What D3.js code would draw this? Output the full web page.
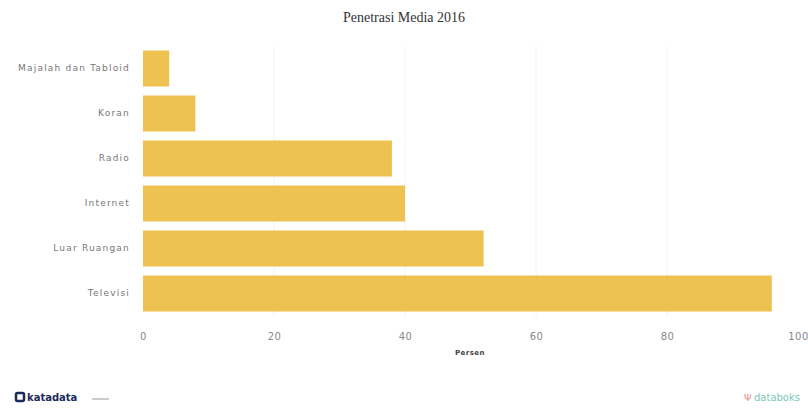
<!DOCTYPE html>
<html><head><meta charset="utf-8">
<script src="https://cdn.jsdelivr.net/npm/d3@7"></script>
<style>body{margin:0;background:#fff}svg{display:block}</style>
</head><body>
<svg id="c" width="808" height="410"></svg>
<script>
const categories = ["Majalah dan Tabloid","Koran","Radio","Internet","Luar Ruangan","Televisi"];
const values = [4, 8, 38, 40, 52, 96];
const xTicks = [0, 20, 40, 60, 80, 100];
const title = "Penetrasi Media 2016";
const xTitle = "Persen";

const svg = d3.select("#c");
const m = {l:143, r:10, t:46, b:94};
const W = 808, H = 410;
const x = d3.scaleLinear().domain([0,100]).range([m.l, 798]);
const y = d3.scaleBand().domain(categories).range([m.t, H - m.b]).paddingInner(0.2).paddingOuter(0.1);

svg.append("g").selectAll("line").data(xTicks.slice(1,-1)).join("line")
  .attr("x1", d=>x(d)).attr("x2", d=>x(d)).attr("y1", m.t).attr("y2", H-m.b)
  .attr("stroke","#f2f2f2").attr("stroke-width",1);

svg.append("g").selectAll("rect").data(values).join("rect")
  .attr("x", x(0)).attr("y", (d,i)=>y(categories[i]))
  .attr("width", d=>x(d)-x(0)).attr("height", y.bandwidth())
  .attr("fill","#eec250");

const xa = d3.axisBottom(x).tickValues(xTicks).tickSize(0).tickPadding(0);
const gx = svg.append("g").attr("transform",`translate(0,${H-m.b+17})`).call(xa);
gx.select(".domain").remove();
gx.selectAll("text").attr("fill","#888").attr("font-family","Verdana, DejaVu Sans, sans-serif").attr("font-size",10).attr("letter-spacing","0.5px").attr("dy","0.71em");

const ya = d3.axisLeft(y).tickSize(0).tickPadding(13);
const gy = svg.append("g").attr("transform",`translate(${m.l},0)`).call(ya);
gy.select(".domain").remove();
gy.selectAll("text").attr("fill","#777").attr("font-family","Verdana, DejaVu Sans, sans-serif").attr("font-size",9).attr("letter-spacing","1.2px");

svg.append("text").attr("x",404).attr("y",22).attr("text-anchor","middle")
  .attr("font-family","Liberation Serif, Times New Roman, serif").attr("font-size",14).attr("fill","#333").text(title);

svg.append("text").attr("x",470).attr("y",355).attr("text-anchor","middle")
  .attr("font-family","Verdana, DejaVu Sans, sans-serif").attr("font-size",7).attr("font-weight","bold").attr("letter-spacing","0.5px").attr("fill","#444").text(xTitle);

// logos
const lg = svg.append("g");
lg.append("rect").attr("x",16).attr("y",393).attr("width",8).attr("height",8).attr("rx",1.5).attr("fill","none").attr("stroke","#1d2b5a").attr("stroke-width",2.5);
lg.append("text").attr("x",27).attr("y",401).attr("font-family","DejaVu Sans, sans-serif").attr("font-size",10).attr("fill","#1d2b5a").attr("font-weight","bold").text("katadata");
lg.append("rect").attr("x",92).attr("y",398).attr("width",17).attr("height",2).attr("fill","#ccc");
lg.append("text").attr("x",744).attr("y",401).attr("font-family","DejaVu Sans, sans-serif").attr("font-size",9.5).attr("fill","#e88").text("Ψ");
lg.append("text").attr("x",754).attr("y",401).attr("font-family","DejaVu Sans, sans-serif").attr("font-size",10).attr("fill","#7cc8b8").text("databoks");
</script>
</body></html>
